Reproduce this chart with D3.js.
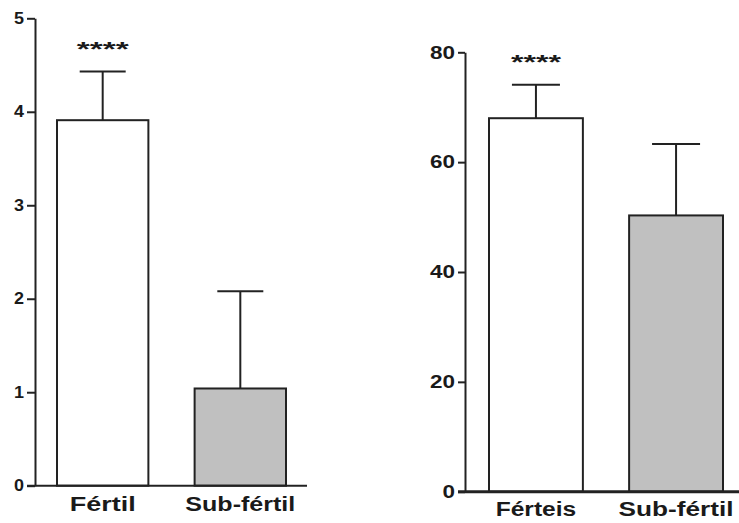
<!DOCTYPE html>
<html><head><meta charset="utf-8">
<script src="https://cdn.jsdelivr.net/npm/d3@7"></script>
<style>body{margin:0;background:#fff}svg{display:block}text{font-family:"Liberation Sans",Arial,sans-serif;font-weight:bold;fill:#1a1a1a}</style>
</head><body><svg id="c" width="739" height="523"></svg>
<script>
// Left panel
const leftCats = ["Fértil", "Sub-fértil"];
const leftMeans = [3.91, 1.04];
const leftErr = [0.52, 1.04];
const leftTicks = [0, 1, 2, 3, 4, 5];
const leftFill = ["#ffffff", "#c0c0c0"];
const leftSig = ["****", ""];
// Right panel
const rightCats = ["Férteis", "Sub-fértil"];
const rightMeans = [68.0, 50.3];
const rightErr = [6.1, 13.0];
const rightTicks = [0, 20, 40, 60, 80];
const rightFill = ["#ffffff", "#c0c0c0"];
const rightSig = ["****", ""];

const svg = d3.select("#c");
const ink = "#222";

function panel(cfg) {
  const g = svg.append("g");
  const y = d3.scaleLinear().domain(cfg.domain).range([cfg.y0, cfg.y1]);
  const x = d3.scaleBand().domain(cfg.cats).range(cfg.xr).paddingInner(cfg.pad).paddingOuter(0);
  // y axis
  const ax = g.append("g").attr("transform", `translate(${cfg.ax},0)`)
    .call(d3.axisLeft(y).tickValues(cfg.ticks).tickFormat(d3.format("d")).tickSize(cfg.tickLen).tickSizeOuter(0).tickPadding(3));
  ax.select(".domain").attr("stroke", ink).attr("stroke-width", 2);
  ax.selectAll(".tick line").attr("stroke", ink).attr("stroke-width", 2);
  ax.selectAll(".tick text").attr("font-size", cfg.tickFont).attr("fill", "#1a1a1a")
    .attr("font-family", '"Liberation Sans",Arial,sans-serif').attr("font-weight", "bold")
    .attr("textLength", d => String(d).length * cfg.digitW).attr("lengthAdjust", "spacingAndGlyphs");
  // bars
  const data = cfg.cats.map((c, i) => ({c, m: cfg.means[i], e: cfg.err[i], f: cfg.fill[i], s: cfg.sig[i]}));
  const b = g.selectAll(".bar").data(data).enter().append("g");
  b.append("line")
    .attr("x1", d => x(d.c) + x.bandwidth() / 2).attr("x2", d => x(d.c) + x.bandwidth() / 2)
    .attr("y1", d => y(d.m)).attr("y2", d => y(d.m + d.e)).attr("stroke", ink).attr("stroke-width", 2);
  b.append("line")
    .attr("x1", d => x(d.c) + x.bandwidth() / 2 - cfg.cap).attr("x2", d => x(d.c) + x.bandwidth() / 2 + cfg.cap)
    .attr("y1", d => y(d.m + d.e)).attr("y2", d => y(d.m + d.e)).attr("stroke", ink).attr("stroke-width", 2);
  b.append("rect")
    .attr("x", d => x(d.c)).attr("width", x.bandwidth())
    .attr("y", d => y(d.m)).attr("height", d => y(0) - y(d.m))
    .attr("fill", d => d.f).attr("stroke", ink).attr("stroke-width", 2);
  b.filter(d => d.s).append("text")
    .attr("x", d => x(d.c) + x.bandwidth() / 2).attr("y", d => y(d.m + d.e) + cfg.sigDy)
    .attr("text-anchor", "middle").attr("font-size", 21).attr("fill", "#2a2a3a")
    .attr("textLength", cfg.sigW).attr("lengthAdjust", "spacingAndGlyphs")
    .text(d => d.s);
  // x axis baseline
  g.append("line").attr("x1", cfg.ax - cfg.tickLen).attr("x2", cfg.xEnd)
    .attr("y1", y(0)).attr("y2", y(0)).attr("stroke", ink).attr("stroke-width", cfg.xw);
  // category labels
  g.selectAll(".cl").data(data).enter().append("text")
    .attr("x", d => x(d.c) + x.bandwidth() / 2 + cfg.labDx)
    .attr("y", cfg.labY).attr("text-anchor", "middle").attr("font-size", cfg.labFont)
    .attr("textLength", d => d.c.length * cfg.charW).attr("lengthAdjust", "spacingAndGlyphs")
    .text(d => d.c);
}

panel({cats: leftCats, means: leftMeans, err: leftErr, fill: leftFill, sig: leftSig,
  domain: [0, 5], y0: 485.7, y1: 18.3, xr: [57, 286], pad: 0.336, ax: 35, tickLen: 8,
  ticks: leftTicks, tickFont: 16, digitW: 10, cap: 23, sigDy: -16, sigW: 52, xEnd: 307, xw: 2,
  labY: 511, labFont: 20, charW: 11, labDx: 0});

panel({cats: rightCats, means: rightMeans, err: rightErr, fill: rightFill, sig: rightSig,
  domain: [0, 80], y0: 491.7, y1: 52.3, xr: [489, 723], pad: 0.33, ax: 465, tickLen: 7,
  ticks: rightTicks, tickFont: 18, digitW: 12.5, cap: 24, sigDy: -16, sigW: 50, xEnd: 739, xw: 3,
  labY: 516, labFont: 20, charW: 11.5, labDx: 0});
</script></body></html>
